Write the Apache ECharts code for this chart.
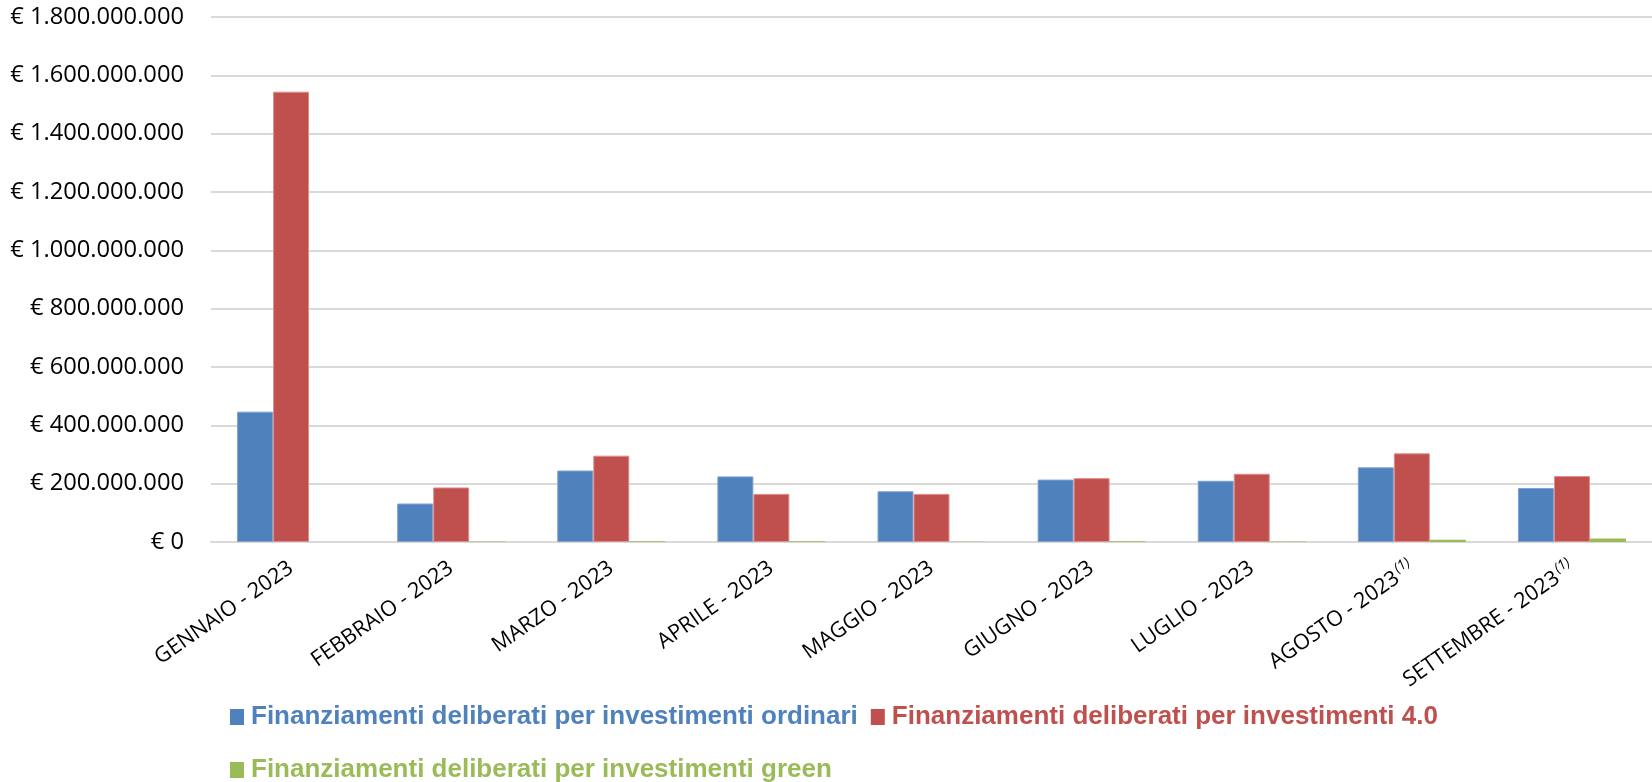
<!DOCTYPE html>
<html>
<head>
<meta charset="utf-8">
<script src="https://cdn.jsdelivr.net/npm/echarts@6/dist/echarts.min.js"></script>
<style>
html,body{margin:0;padding:0;background:#fff;}
#chart{width:1652px;height:782px;}
</style>
</head>
<body>
<div id="chart"></div>
<script>
const categories = ['GENNAIO - 2023','FEBBRAIO - 2023','MARZO - 2023','APRILE - 2023','MAGGIO - 2023','GIUGNO - 2023','LUGLIO - 2023','AGOSTO - 2023','SETTEMBRE - 2023'];
const footnoteFlags = [false,false,false,false,false,false,false,true,true];
const seriesNames = ['Finanziamenti deliberati per investimenti ordinari','Finanziamenti deliberati per investimenti 4.0','Finanziamenti deliberati per investimenti green'];
const ordinari = [447e6,132e6,245e6,225e6,174e6,214e6,210e6,256e6,185e6];
const inv40 = [1544e6,187e6,296e6,165e6,165e6,219e6,234e6,304e6,226e6];
const green = [0,2e6,3e6,3e6,1e6,3e6,2e6,8e6,12e6];
const yTicks = [0,2e8,4e8,6e8,8e8,1e9,1.2e9,1.4e9,1.6e9,1.8e9];
const colors = ['#4F81BD','#C0504D','#9BBB59'];

function fmtEuro(v){
  const s = Math.round(v).toString().replace(/\B(?=(\d{3})+(?!\d))/g,'.');
  return '€ ' + s;
}

const chart = echarts.init(document.getElementById('chart'));
const font = '"Open Sans", "Liberation Sans", sans-serif';
const lfont = '"Liberation Sans", Arial, sans-serif';
chart.setOption({
  animation:false,
  color: colors,
  grid:{left:211,right:0,top:17,bottom:240,containLabel:false},
  legend:[
    {
      left:225, top:699, itemGap:13, itemWidth:14, itemHeight:16, icon:'rect',
      itemStyle:{borderWidth:0},
      data:[
        {name:seriesNames[0], textStyle:{color:colors[0]}},
        {name:seriesNames[1], textStyle:{color:colors[1]}}
      ],
      textStyle:{fontFamily:lfont,fontWeight:'bold',fontSize:26, padding:[0,0,0,2]}
    },
    {
      left:225, top:752, itemWidth:14, itemHeight:16, icon:'rect',
      itemStyle:{borderWidth:0},
      data:[{name:seriesNames[2], textStyle:{color:colors[2]}}],
      textStyle:{fontFamily:lfont,fontWeight:'bold',fontSize:26, padding:[0,0,0,2]}
    }
  ],
  xAxis:{
    type:'category',
    data:categories,
    axisTick:{show:false},
    axisLine:{lineStyle:{color:'#d9d9d9',width:2}},
    axisLabel:{
      interval:0, rotate:35, margin:24,
      color:'#000', fontFamily:font, fontSize:21.5,
      formatter:function(v, i){ return footnoteFlags[i] ? v + '{sup|(1)}' : v; },
      rich:{sup:{fontSize:14, fontFamily:font, fontStyle:'italic', color:'#000', verticalAlign:'top', padding:[0,0,12,2]}}
    }
  },
  yAxis:{
    type:'value', min:0, max:1.8e9, interval:2e8,
    axisLine:{show:false}, axisTick:{show:false},
    splitLine:{lineStyle:{color:'#d9d9d9',width:2}},
    axisLabel:{
      margin:27, color:'#000', fontFamily:font, fontSize:23.7,
      formatter:function(v){ return yTicks.indexOf(v) >= 0 ? fmtEuro(v) : ''; }
    }
  },
  series:[
    {name:seriesNames[0], type:'bar', data:ordinari, barWidth:36, barGap:'0%',
     itemStyle:{color:colors[0], borderColor:'#7ea3d3', borderWidth:1}},
    {name:seriesNames[1], type:'bar', data:inv40, barWidth:36, barGap:'0%',
     itemStyle:{color:colors[1], borderColor:'#e08d8b', borderWidth:1}},
    {name:seriesNames[2], type:'bar', data:green, barWidth:36, barGap:'0%',
     itemStyle:{color:colors[2]}}
  ]
});
</script>
</body>
</html>
